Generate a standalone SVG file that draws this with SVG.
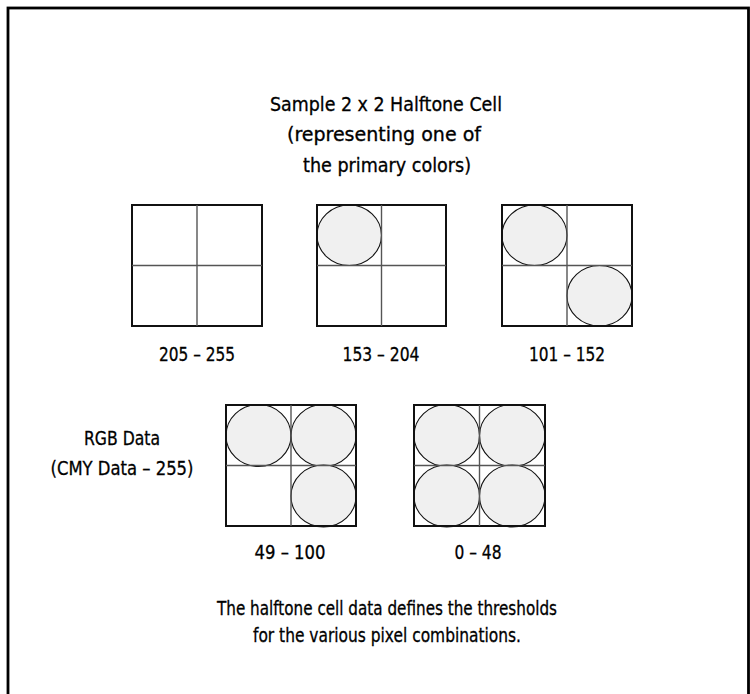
<svg xmlns="http://www.w3.org/2000/svg" width="750" height="694" viewBox="0 0 750 694">
<style>
  .frame { fill: none; stroke: #000; stroke-width: 2.8; }
  .dot { fill: #f0f0f0; stroke: #111; stroke-width: 1.1; }
  .outer { fill: none; stroke: #111; stroke-width: 2; }
  .div { stroke: #555; stroke-width: 1.4; }
  text { font-family: "DejaVu Sans Condensed", "Liberation Sans", Arial, sans-serif; font-stretch: condensed; font-size: 20px; fill: #000; stroke: #000; stroke-width: 0.3; text-anchor: middle; }
</style>
<rect width="750" height="694" fill="#fff"/>
<rect class="frame" x="8" y="8" width="740.5" height="720"/>

<g id="title">
  <text x="386" y="111" textLength="232" lengthAdjust="spacingAndGlyphs">Sample 2 x 2 Halftone Cell</text>
  <text x="384" y="141" textLength="194" lengthAdjust="spacingAndGlyphs">(representing one of</text>
  <text x="387" y="172" textLength="168" lengthAdjust="spacingAndGlyphs">the primary colors)</text>
</g>

<g id="cell-205-255">
  <rect class="outer" x="132" y="205" width="130" height="121"/>
  <line class="div" x1="197" y1="205" x2="197" y2="326"/>
  <line class="div" x1="132" y1="265.5" x2="262" y2="265.5"/>
  <text x="197" y="361" textLength="76" lengthAdjust="spacingAndGlyphs">205 – 255</text>
</g>

<g id="cell-153-204">
  <ellipse class="dot" cx="349.25" cy="235.25" rx="32.25" ry="30.25"/>
  <rect class="outer" x="317" y="205" width="129" height="121"/>
  <line class="div" x1="381.5" y1="205" x2="381.5" y2="326"/>
  <line class="div" x1="317" y1="265.5" x2="446" y2="265.5"/>
  <text x="381" y="361" textLength="77" lengthAdjust="spacingAndGlyphs">153 – 204</text>
</g>

<g id="cell-101-152">
  <ellipse class="dot" cx="534.5" cy="235.25" rx="32.5" ry="30.25"/>
  <ellipse class="dot" cx="599.5" cy="295.75" rx="32.5" ry="30.25"/>
  <rect class="outer" x="502" y="205" width="130" height="121"/>
  <line class="div" x1="567" y1="205" x2="567" y2="326"/>
  <line class="div" x1="502" y1="265.5" x2="632" y2="265.5"/>
  <text x="567" y="361" textLength="76" lengthAdjust="spacingAndGlyphs">101 – 152</text>
</g>

<g id="rgb-label">
  <text x="122" y="445" textLength="76" lengthAdjust="spacingAndGlyphs">RGB Data</text>
  <text x="122" y="475" textLength="143" lengthAdjust="spacingAndGlyphs">(CMY Data – 255)</text>
</g>

<g id="cell-49-100">
  <ellipse class="dot" cx="258.5" cy="435.5" rx="32.5" ry="31"/>
  <ellipse class="dot" cx="323.5" cy="435.5" rx="32.5" ry="31"/>
  <ellipse class="dot" cx="323.5" cy="496" rx="32.5" ry="31"/>
  <rect class="outer" x="226" y="405" width="130" height="121"/>
  <line class="div" x1="291" y1="405" x2="291" y2="526"/>
  <line class="div" x1="226" y1="465.5" x2="356" y2="465.5"/>
  <text x="290" y="559" textLength="71" lengthAdjust="spacingAndGlyphs">49 – 100</text>
</g>

<g id="cell-0-48">
  <ellipse class="dot" cx="446.75" cy="435.5" rx="32.75" ry="31"/>
  <ellipse class="dot" cx="512.25" cy="435.5" rx="32.75" ry="31"/>
  <ellipse class="dot" cx="446.75" cy="496" rx="32.75" ry="31"/>
  <ellipse class="dot" cx="512.25" cy="496" rx="32.75" ry="31"/>
  <rect class="outer" x="414" y="405" width="131" height="121"/>
  <line class="div" x1="479.5" y1="405" x2="479.5" y2="526"/>
  <line class="div" x1="414" y1="465.5" x2="545" y2="465.5"/>
  <text x="478" y="559" textLength="47" lengthAdjust="spacingAndGlyphs">0 – 48</text>
</g>

<g id="caption">
  <text x="387" y="615" textLength="340" lengthAdjust="spacingAndGlyphs">The halftone cell data defines the thresholds</text>
  <text x="387" y="642" textLength="268" lengthAdjust="spacingAndGlyphs">for the various pixel combinations.</text>
</g>
</svg>
